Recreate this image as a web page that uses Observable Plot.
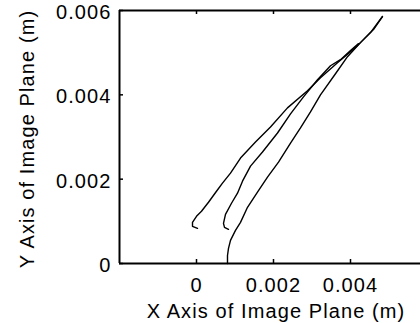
<!DOCTYPE html>
<html>
<head>
<meta charset="utf-8">
<script src="https://cdn.jsdelivr.net/npm/d3@7"></script>
<script src="https://cdn.jsdelivr.net/npm/@observablehq/plot@0.6"></script>
<style>
  html, body { margin: 0; padding: 0; background: #fff; overflow: hidden; }
  #chart svg { display: block; }
</style>
</head>
<body>
<div id="chart"></div>
<script>
// Trajectory A (leftmost, hook near x=0)
const ax = [0.000026, -0.000104, -0.000104, 0.0, 0.00013, 0.000312, 0.000519, 0.000675, 0.000883, 0.001143, 0.001532, 0.001922, 0.002363, 0.002883, 0.00322, 0.003662, 0.004, 0.004181, 0.004519, 0.00483];
const ay = [0.000833, 0.000881, 0.000976, 0.001119, 0.001238, 0.001452, 0.001714, 0.001905, 0.002143, 0.0025, 0.002881, 0.003238, 0.00369, 0.004095, 0.004405, 0.004762, 0.005024, 0.005167, 0.005476, 0.005857];
// Trajectory B (middle, hook near x=0.0008)
const bx = [0.000831, 0.000727, 0.000701, 0.000753, 0.000909, 0.001065, 0.001195, 0.001403, 0.001714, 0.002104, 0.002442, 0.002779, 0.003143, 0.00348, 0.00374, 0.004, 0.004208];
const by = [0.00081, 0.000857, 0.000952, 0.001167, 0.001429, 0.001667, 0.001952, 0.00231, 0.002643, 0.003095, 0.003548, 0.003952, 0.004357, 0.00469, 0.004833, 0.005048, 0.005214];
// Trajectory C (rightmost, starting on the x axis)
const cx = [0.000805, 0.000805, 0.000831, 0.000883, 0.001013, 0.001143, 0.001325, 0.001584, 0.001844, 0.00213, 0.002442, 0.002701, 0.002961, 0.00322, 0.00361, 0.003922, 0.004259, 0.004597, 0.00483];
const cy = [0.0, 0.00019, 0.000357, 0.000548, 0.000786, 0.000976, 0.001333, 0.00169, 0.002048, 0.002405, 0.002857, 0.003214, 0.003595, 0.004, 0.0045, 0.004905, 0.005238, 0.005548, 0.005857];

const xTicks = [0, 0.002, 0.004];
const xTickMarks = [0, 0.002, 0.004];
const yTicks = [0, 0.002, 0.004, 0.006];
const xLabel = "X Axis of Image Plane (m)";
const yLabel = "Y Axis of Image Plane (m)";

const xDomain = [-0.002, 0.0058182];
const yDomain = [0, 0.006];

const toRows = (xs, ys, id) => xs.map((x, i) => ({x, y: ys[i], id}));
const rows = [...toRows(ax, ay, "A"), ...toRows(bx, by, "B"), ...toRows(cx, cy, "C")];

const W = 420, H = 323;
const mL = 119, mR = 0, mT = 10, mB = 60;
const tickPx = 4;
const tyLen = tickPx * (yDomain[1] - yDomain[0]) / (H - mT - mB);
const txLen = tickPx * (xDomain[1] - xDomain[0]) / (W - mL - mR);
const fmt = d => d === 0 ? "0" : d.toFixed(3);

const chart = Plot.plot({
  width: W,
  height: H,
  marginLeft: mL,
  marginRight: mR,
  marginTop: mT,
  marginBottom: mB,
  style: {fontFamily: "'Liberation Sans', Arial, sans-serif", fontSize: "20px", letterSpacing: "1.1px", color: "#000", background: "#fff"},
  x: {domain: xDomain, axis: null},
  y: {domain: yDomain, axis: null},
  marks: [
    Plot.axisX({ticks: xTicks, tickSize: 0, tickPadding: 14, tickFormat: fmt, label: null, fontSize: 20}),
    Plot.axisY({ticks: yTicks, tickSize: 0, tickPadding: 8, tickFormat: fmt, label: null, fontSize: 20, dy: 2}),
    // inward ticks
    Plot.ruleX(xTickMarks, {x: d => d, y1: yDomain[0], y2: yDomain[0] + tyLen, stroke: "#000", strokeWidth: 1.5}),
    Plot.ruleX(xTickMarks, {x: d => d, y1: yDomain[1], y2: yDomain[1] - tyLen, stroke: "#000", strokeWidth: 1.5}),
    Plot.ruleY(yTicks, {y: d => d, x1: xDomain[0], x2: xDomain[0] + txLen, stroke: "#000", strokeWidth: 1.5}),
    // box (left, bottom, top)
    Plot.ruleX([xDomain[0]], {stroke: "#000", strokeWidth: 2}),
    Plot.ruleY([yDomain[0], yDomain[1]], {stroke: "#000", strokeWidth: 2}),
    Plot.line(rows, {x: "x", y: "y", z: "id", stroke: "#000", strokeWidth: 1.4}),
    // axis labels
    Plot.text([xLabel], {frameAnchor: "bottom", text: d => d, dy: 54, dx: 6, fontSize: 20, lineAnchor: "bottom"}),
    Plot.text([yLabel], {frameAnchor: "left", textAnchor: "middle", text: d => d, rotate: -90, dx: -86, dy: 2, fontSize: 20, lineAnchor: "bottom"})
  ]
});
document.getElementById("chart").appendChild(chart);
</script>
</body>
</html>
